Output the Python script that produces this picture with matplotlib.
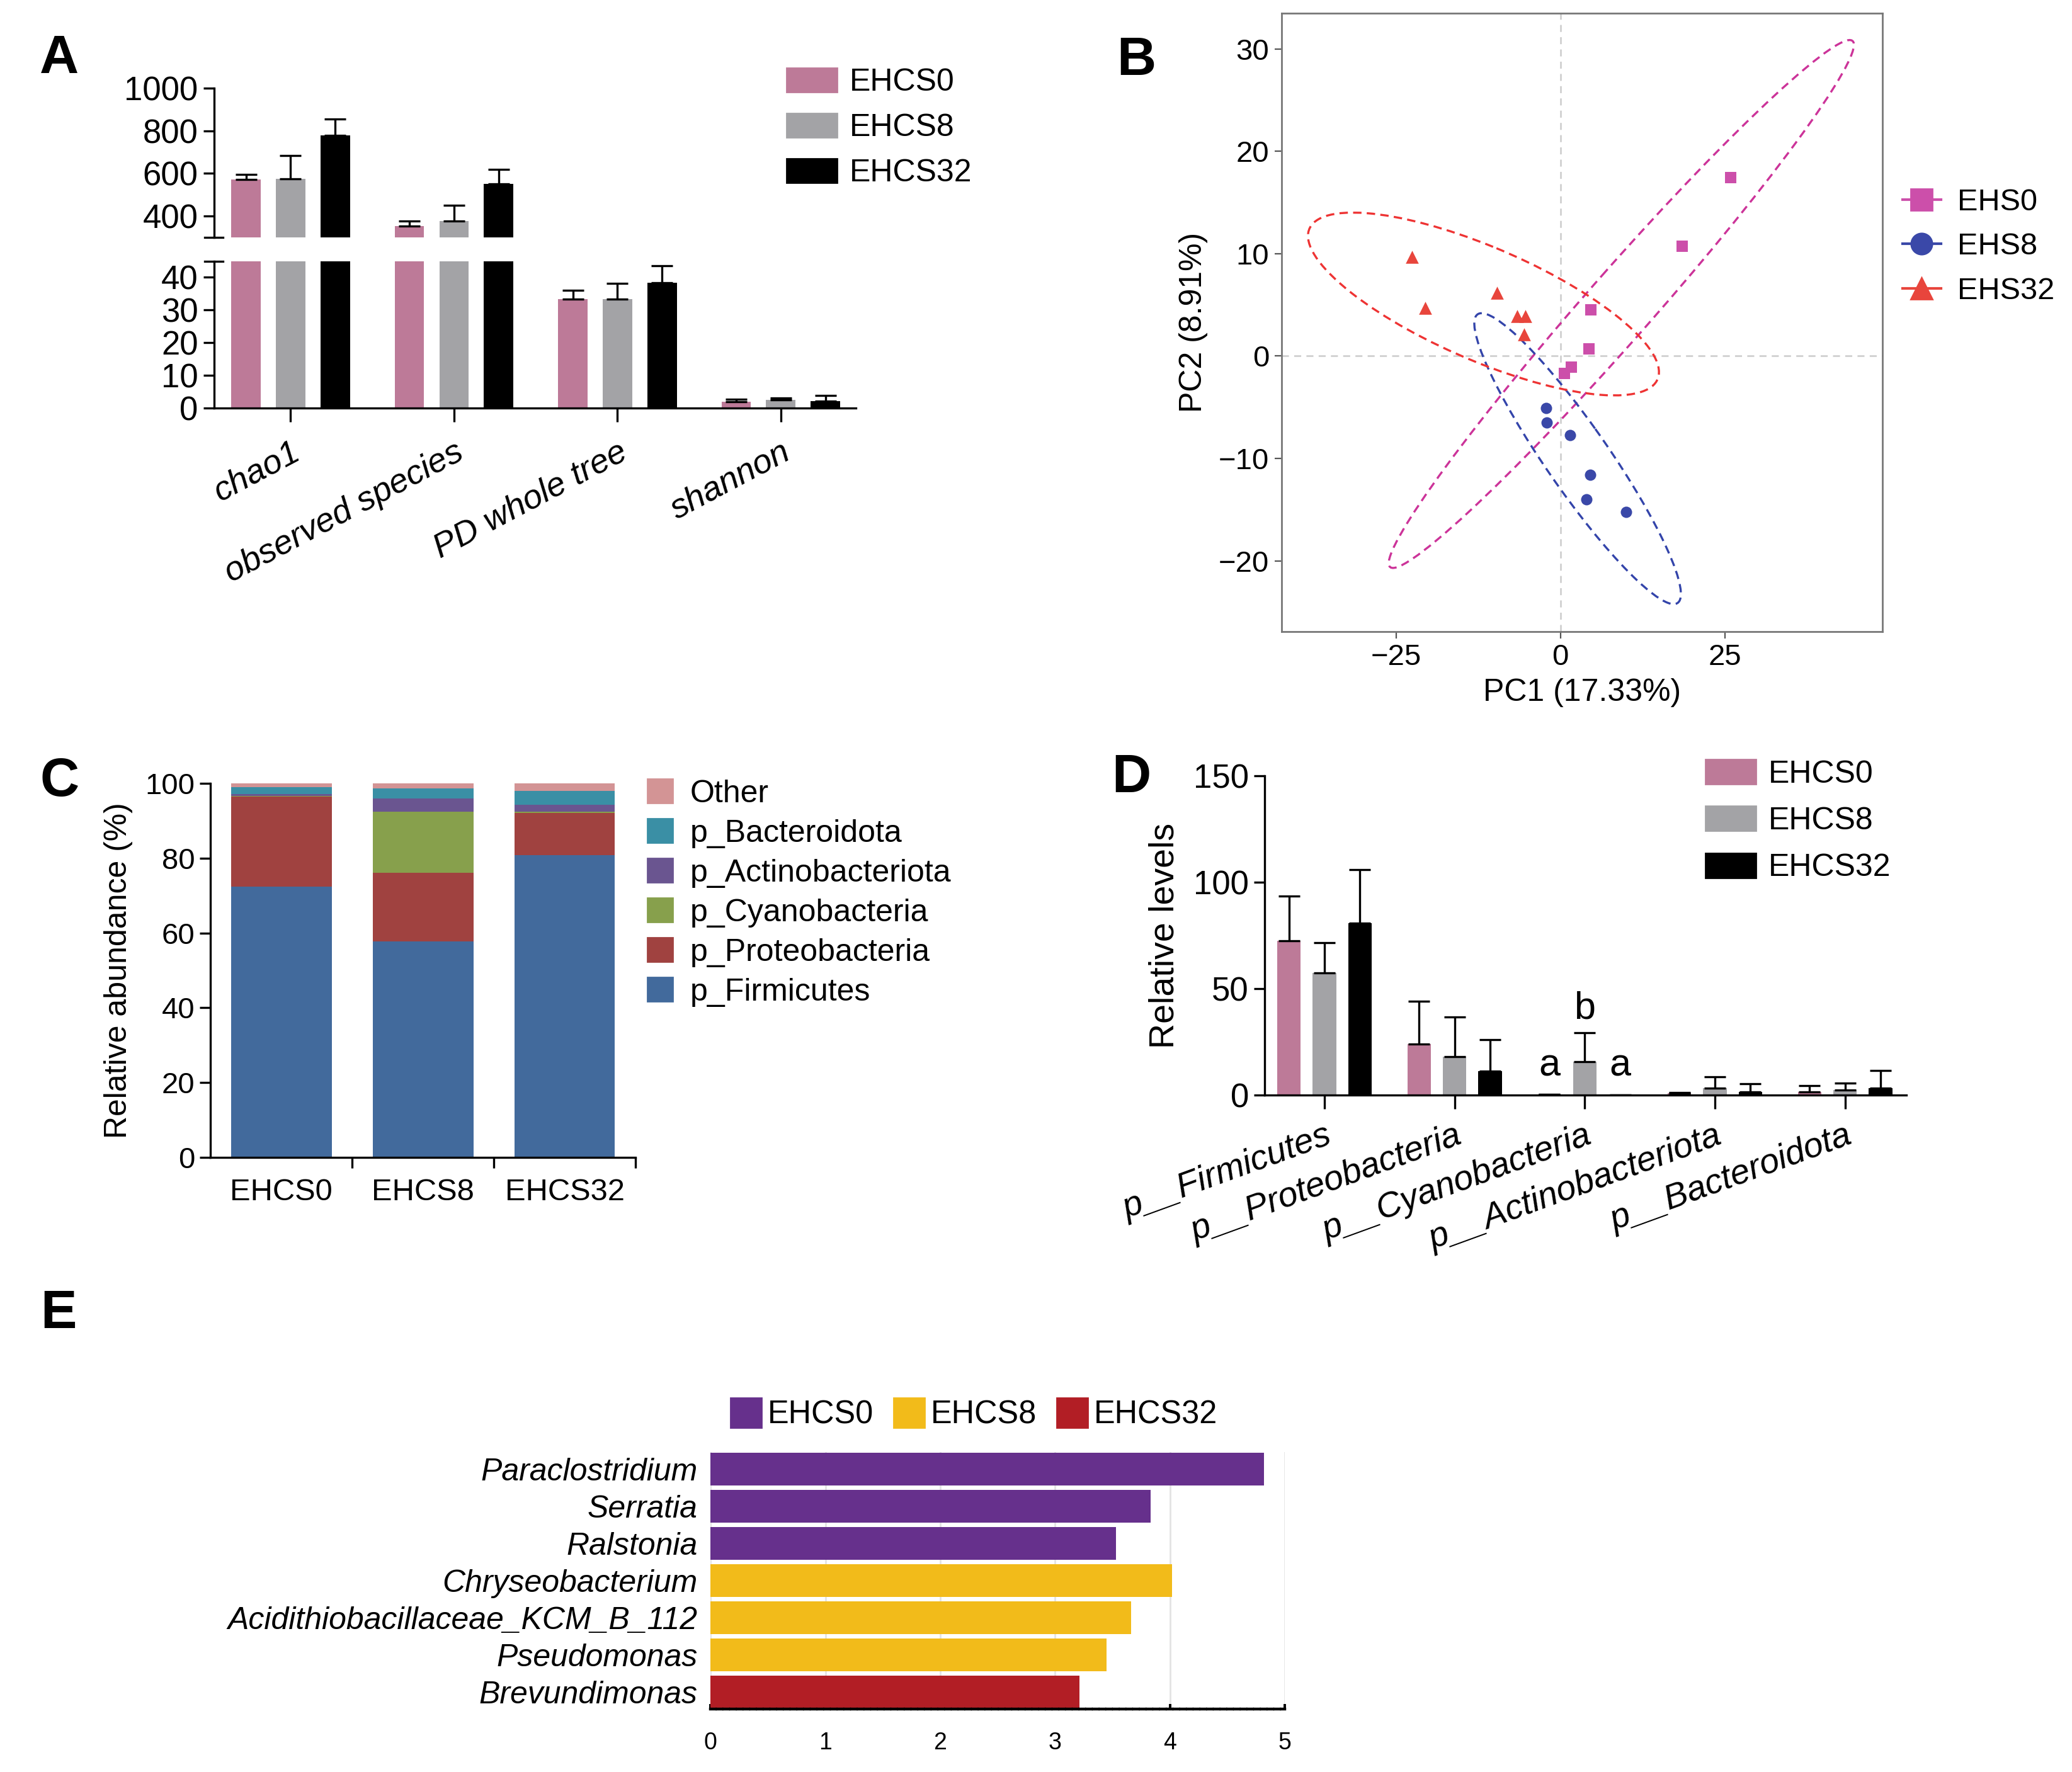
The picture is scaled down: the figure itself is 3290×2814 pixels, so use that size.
import numpy as np
import matplotlib
matplotlib.use('Agg')
import matplotlib.pyplot as plt
from matplotlib.patches import Ellipse, Patch
from matplotlib.lines import Line2D

plt.rcParams['font.family'] = ['Liberation Sans', 'DejaVu Sans']
plt.rcParams['axes.linewidth'] = 1.2

# ---------------- Data ----------------
groups = ['EHCS0', 'EHCS8', 'EHCS32']

# Panel A: alpha diversity (mean, upper SD)
alpha_metrics = ['chao1', 'observed species', 'PD whole tree', 'shannon']
alpha_ehcs0 = [571, 353, 33.4, 2.0]
alpha_ehcs8 = [575, 375, 33.4, 2.6]
alpha_ehcs32 = [777, 549, 38.4, 2.1]
alpha_sd_ehcs0 = [25, 22, 2.6, 0.8]
alpha_sd_ehcs8 = [110, 75, 4.8, 0.5]
alpha_sd_ehcs32 = [78, 69, 5.2, 1.8]

# Panel B: PCA scores
pca_groups = ['EHS0', 'EHS8', 'EHS32']
pc1_ehs0 = [25.9, 18.5, 4.6, 4.3, 1.7, 0.6]
pc2_ehs0 = [17.4, 10.7, 4.5, 0.7, -1.1, -1.7]
pc1_ehs8 = [-2.2, -2.1, 1.5, 4.5, 4.0, 10.0]
pc2_ehs8 = [-5.1, -6.5, -7.7, -11.6, -14.0, -15.2]
pc1_ehs32 = [-22.6, -20.6, -9.6, -6.6, -5.3, -5.5]
pc2_ehs32 = [9.7, 4.7, 6.2, 3.9, 3.9, 2.1]

# Panel C: relative abundance (%) stacked bottom -> top
phyla_c = ['p_Firmicutes', 'p_Proteobacteria', 'p_Cyanobacteria',
           'p_Actinobacteriota', 'p_Bacteroidota', 'Other']
abund_firmicutes = [72.4, 57.8, 80.9]
abund_proteobacteria = [24.2, 18.3, 11.3]
abund_cyanobacteria = [0.1, 16.3, 0.3]
abund_actinobacteriota = [0.5, 3.6, 1.9]
abund_bacteroidota = [1.9, 2.7, 3.7]
abund_other = [0.9, 1.3, 1.9]

# Panel D: relative levels (mean, upper SD)
phyla_d = ['p__Firmicutes', 'p__Proteobacteria', 'p__Cyanobacteria',
           'p__Actinobacteriota', 'p__Bacteroidota']
lev_ehcs0 = [72.4, 24.1, 0.3, 1.0, 1.7]
lev_ehcs8 = [57.5, 18.1, 15.9, 3.4, 2.5]
lev_ehcs32 = [80.8, 11.2, 0.2, 1.7, 3.4]
lev_sd_ehcs0 = [21.2, 20.0, 0.0, 0.4, 2.7]
lev_sd_ehcs8 = [14.2, 18.8, 13.6, 5.2, 3.1]
lev_sd_ehcs32 = [25.1, 14.9, 0.0, 3.6, 8.1]
sig_letters = ['a', 'b', 'a']  # for p__Cyanobacteria

# Panel E: LDA scores
genera = ['Paraclostridium', 'Serratia', 'Ralstonia', 'Chryseobacterium',
          'Acidithiobacillaceae_KCM_B_112', 'Pseudomonas', 'Brevundimonas']
lda_scores = [4.82, 3.83, 3.53, 4.02, 3.66, 3.45, 3.21]
lda_group = ['EHCS0', 'EHCS0', 'EHCS0', 'EHCS8', 'EHCS8', 'EHCS8', 'EHCS32']

# ---------------- Figure ----------------
W, H = 3290, 2814
fig = plt.figure(figsize=(16.45, 14.07), dpi=200)
LW = 1.2
colA = ['#BD7A98', '#A3A3A6', '#000000']

def fx(px):
    return px / W

def fy(py):
    return 1 - py / H

def panel_label(txt, x, y):
    fig.text(fx(x), fy(y), txt, fontsize=31, fontweight='bold', ha='center', va='center')

# ---------- Panel A ----------
axAu = fig.add_axes([0.1032, 0.8662, 0.3099, 0.0840])
axAl = fig.add_axes([0.1032, 0.7696, 0.3099, 0.0831])
xa = np.arange(len(alpha_metrics))
offA, wA = 0.273, 0.18
A_means = [alpha_ehcs0, alpha_ehcs8, alpha_ehcs32]
A_sds = [alpha_sd_ehcs0, alpha_sd_ehcs8, alpha_sd_ehcs32]
for ax in (axAu, axAl):
    for i in range(3):
        xs = xa + (i - 1) * offA
        ax.bar(xs, A_means[i], wA, color=colA[i], zorder=2, label=groups[i])
        ax.errorbar(xs, A_means[i], yerr=[np.zeros(4), A_sds[i]], fmt='none',
                    ecolor='black', elinewidth=LW, capsize=6, capthick=LW, zorder=3)
    ax.set_xlim(-0.47, 3.46)
    ax.spines['top'].set_visible(False)
    ax.spines['right'].set_visible(False)
    ax.tick_params(axis='y', labelsize=19, length=6, width=LW, pad=3)
axAu.set_ylim(300, 1000)
axAu.spines['bottom'].set_visible(False)
axAu.set_xticks([])
axAu.set_yticks([400, 600, 800, 1000])
axAl.set_ylim(0, 45)
axAl.set_yticks([0, 10, 20, 30, 40])
axAl.set_xticks(xa)
axAl.set_xticklabels(alpha_metrics, rotation=28, ha='right', rotation_mode='anchor',
                     style='italic', fontsize=19.5)
axAl.tick_params(axis='x', length=8, width=LW, pad=8)
axAu.plot([-0.014, 0.014], [0, 0], transform=axAu.transAxes, color='k', lw=LW, clip_on=False)
axAl.plot([-0.014, 0.014], [1, 1], transform=axAl.transAxes, color='k', lw=LW, clip_on=False)
hA = [Patch(color=c) for c in colA]
fig.legend(hA, groups, loc='upper left', bbox_to_anchor=(fx(1249), fy(108)),
           frameon=False, fontsize=18, handlelength=1.6, handleheight=0.8,
           handletextpad=0.4, labelspacing=0.51, borderpad=0, borderaxespad=0)
panel_label('A', 94, 94)

# ---------- Panel B ----------
axB = fig.add_axes([0.6184, 0.6436, 0.2901, 0.3489])
axB.axhline(0, color='#D0D0D0', ls=(0, (4, 3)), lw=1, zorder=0)
axB.axvline(0, color='#D0D0D0', ls=(0, (4, 3)), lw=1, zorder=0)
colB = ['#CC4FAA', '#3A48A8', '#E8453C']
ellB = ['#CC3399', '#3344AA', '#EE3333']
mkB = ['s', 'o', '^']
pcs = [(pc1_ehs0, pc2_ehs0), (pc1_ehs8, pc2_ehs8), (pc1_ehs32, pc2_ehs32)]
for (px, py), c, ec, mk in zip(pcs, colB, ellB, mkB):
    px = np.array(px); py = np.array(py)
    n = len(px)
    cov = np.cov(px, py)
    vals, vecs = np.linalg.eigh(cov)
    order = vals.argsort()[::-1]
    vals, vecs = vals[order], vecs[:, order]
    d = n - 1
    qf = d / 2.0 * (0.05 ** (-2.0 / d) - 1)   # F(0.95; 2, n-1)
    r = np.sqrt(2 * qf)
    ang = np.degrees(np.arctan2(vecs[1, 0], vecs[0, 0]))
    e = Ellipse((px.mean(), py.mean()), 2 * r * np.sqrt(vals[0]), 2 * r * np.sqrt(vals[1]),
                angle=ang, fill=False, edgecolor=ec, ls=(0, (4, 2.5)), lw=1.2, zorder=2)
    axB.add_patch(e)
    axB.scatter(px, py, marker=mk, s=42 if mk != '^' else 55, color=c, zorder=3, linewidths=0)
axB.set_xlim(-42.45, 48.98)
axB.set_ylim(-26.9, 33.47)
axB.set_xticks([-25, 0, 25])
axB.set_yticks([-20, -10, 0, 10, 20, 30])
for sp in axB.spines.values():
    sp.set_color('#777777'); sp.set_linewidth(1.0)
axB.tick_params(labelsize=17, length=4, width=0.8, color='#555555', pad=3)
axB.set_xlabel('PC1 (17.33%)', fontsize=18, labelpad=4)
axB.set_ylabel('PC2 (8.91%)', fontsize=18, labelpad=6)
hB = [Line2D([0], [0], color=c, marker=m, markersize=12, lw=1.5) for c, m in zip(colB, mkB)]
fig.legend(hB, pca_groups, loc='upper left', bbox_to_anchor=(fx(3021), fy(299)),
           frameon=False, fontsize=17.5, handlelength=1.25, handletextpad=0.55,
           labelspacing=0.52, borderpad=0, borderaxespad=0)
panel_label('B', 1804, 97)

# ---------- Panel C ----------
axC = fig.add_axes([0.1016, 0.3469, 0.2051, 0.2109])
colC = ['#426A9C', '#A04240', '#87A04C', '#6A5590', '#3A8FA5', '#D39495']
stack = [abund_firmicutes, abund_proteobacteria, abund_cyanobacteria,
         abund_actinobacteriota, abund_bacteroidota, abund_other]
xc = np.arange(3)
bottom = np.zeros(3)
for vals, c in zip(stack, colC):
    axC.bar(xc, vals, 0.71, bottom=bottom, color=c, zorder=2)
    bottom += np.array(vals)
axC.set_xlim(-0.5, 2.5)
axC.set_ylim(0, 100)
axC.spines['top'].set_visible(False)
axC.spines['right'].set_visible(False)
axC.set_xticks(xc)
axC.set_xticklabels(groups, fontsize=17.6)
axC.tick_params(axis='x', length=0, pad=12)
axC.set_xticks([0.5, 1.5, 2.5], minor=True)
axC.tick_params(axis='x', which='minor', length=6, width=LW)
axC.set_yticks([0, 20, 40, 60, 80, 100])
axC.tick_params(axis='y', labelsize=17, length=6, width=LW, pad=3)
axC.set_ylabel('Relative abundance (%)', fontsize=18, labelpad=7)
hC = [Patch(color=c) for c in colC[::-1]]
fig.legend(hC, phyla_c[::-1], loc='upper left', bbox_to_anchor=(fx(1028), fy(1237)),
           frameon=False, fontsize=18, handlelength=0.8, handleheight=0.8,
           handletextpad=0.55, labelspacing=0.33, borderpad=0, borderaxespad=0)
panel_label('C', 95, 1242)

# ---------- Panel D ----------
axD = fig.add_axes([0.6103, 0.3819, 0.3097, 0.1803])
xd = np.arange(len(phyla_d))
D_means = [lev_ehcs0, lev_ehcs8, lev_ehcs32]
D_sds = [lev_sd_ehcs0, lev_sd_ehcs8, lev_sd_ehcs32]
for i in range(3):
    xs = xd + (i - 1) * 0.273
    axD.bar(xs, D_means[i], 0.18, color=colA[i], zorder=2)
    axD.errorbar(xs, D_means[i], yerr=[np.zeros(5), D_sds[i]], fmt='none',
                 ecolor='black', elinewidth=LW, capsize=6, capthick=LW, zorder=3)
cy = phyla_d.index('p__Cyanobacteria')
for i, letter in enumerate(sig_letters):
    top = D_means[i][cy] + D_sds[i][cy]
    ytxt = top + 6.5 if letter == 'b' else 9
    axD.text(cy + (i - 1) * 0.273, ytxt, letter, ha='center', va='baseline', fontsize=22)
axD.set_xlim(-0.46, 4.47)
axD.set_ylim(0, 150)
axD.set_yticks([0, 50, 100, 150])
axD.spines['top'].set_visible(False)
axD.spines['right'].set_visible(False)
axD.set_xticks(xd)
axD.set_xticklabels(phyla_d, rotation=20, ha='right', rotation_mode='anchor',
                    style='italic', fontsize=20)
axD.tick_params(axis='x', length=8, width=LW, pad=6)
axD.tick_params(axis='y', labelsize=19, length=6, width=LW, pad=3)
axD.set_ylabel('Relative levels', fontsize=20, labelpad=7)
fig.legend(hA, groups, loc='upper left', bbox_to_anchor=(fx(2708), fy(1206)),
           frameon=False, fontsize=18, handlelength=1.6, handleheight=0.82,
           handletextpad=0.4, labelspacing=0.55, borderpad=0, borderaxespad=0)
panel_label('D', 1796, 1236)

# ---------- Panel E ----------
axE = fig.add_axes([0.3429, 0.0355, 0.2772, 0.145])
colE = {'EHCS0': '#66308C', 'EHCS8': '#F2BB1A', 'EHCS32': '#B21E25'}
ye = np.arange(len(genera))
axE.barh(ye, lda_scores, height=0.89, color=[colE[g] for g in lda_group], zorder=2)
axE.set_ylim(6.46, -0.46)
axE.set_xlim(0, 5)
axE.set_xticks(range(6))
axE.grid(axis='x', color='#E3E3E3', lw=1, zorder=0)
for s in ['top', 'right', 'left']:
    axE.spines[s].set_visible(False)
axE.spines['bottom'].set_linestyle((0, (1.7, 0.7)))
axE.spines['bottom'].set_linewidth(1.6)
axE.tick_params(axis='x', direction='in', length=3, width=1.4, pad=13, labelsize=13.5)
axE.set_yticks(ye)
axE.set_yticklabels(genera, style='italic', fontsize=18)
axE.tick_params(axis='y', length=0, pad=7.5)
hE = [Patch(color=colE[g]) for g in groups]
fig.legend(hE, groups, loc='upper left', bbox_to_anchor=(fx(1160), fy(2220)),
           ncol=3, frameon=False, fontsize=18.2, handlelength=0.97, handleheight=1.05,
           handletextpad=0.2, columnspacing=0.62, borderpad=0, borderaxespad=0)
panel_label('E', 93, 2087)

fig.savefig('out.png', dpi=200, facecolor='white')
